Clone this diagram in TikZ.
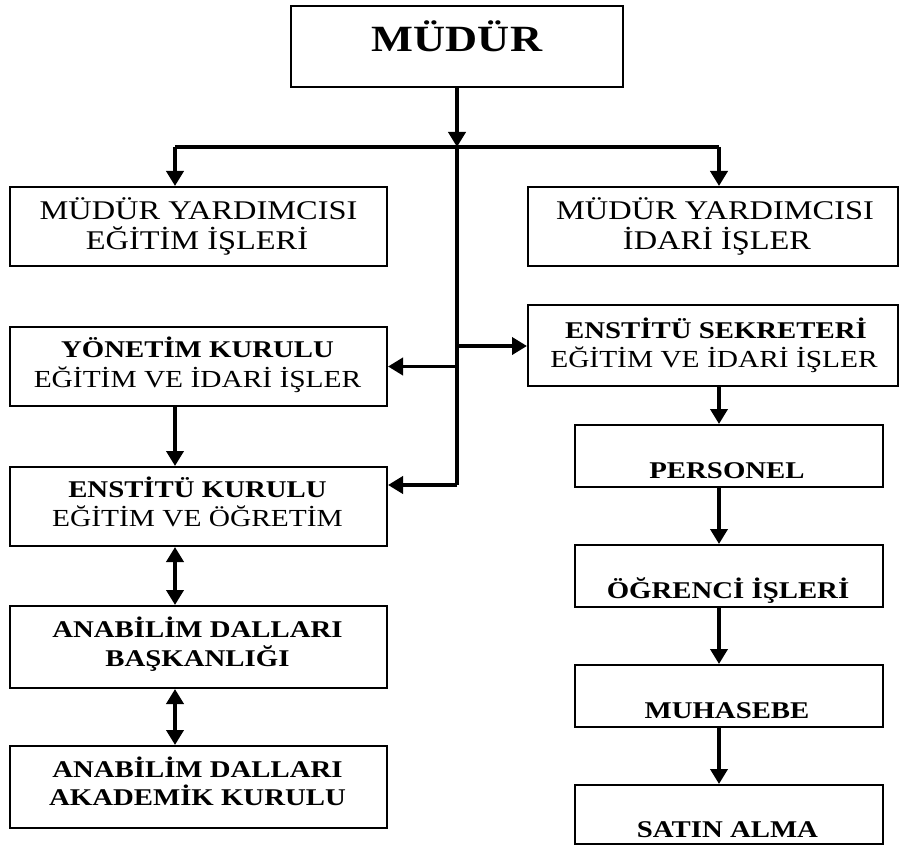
\documentclass[tikz,border=0pt]{standalone}
\usepackage{fontspec}
\setmainfont{Liberation Serif}[FakeStretch=1.2]
\usetikzlibrary{arrows.meta}
\begin{document}
\begin{tikzpicture}[x=1pt,y=-1pt,
  box/.style={draw=black, line width=2pt, inner sep=0pt},
  lw/.style={line width=3.8pt},
  conn/.style={line width=3.8pt, -{Triangle[width=17pt,length=15pt]}},
  dconn/.style={line width=3.8pt, {Triangle[width=17pt,length=15pt]}-{Triangle[width=17pt,length=15pt]}},
  tb/.style={anchor=base, inner sep=0pt, font=\fontsize{24}{28}\selectfont\bfseries},
  tr/.style={anchor=base, inner sep=0pt, font=\fontsize{24.5}{28}\selectfont},
  tmy/.style={anchor=base, inner sep=0pt, font=\fontsize{27}{30}\selectfont},
  tbig/.style={anchor=base, inner sep=0pt, font=\fontsize{37}{40}\selectfont\bfseries}]
\useasboundingbox[fill=white] (0,0) rectangle (899,845);

% boxes
\node[box, minimum width=332pt, minimum height=81pt] (mudur) at (457,46.5) {};
\node[box, minimum width=377pt, minimum height=79pt] (myl) at (198.5,226.5) {};
\node[box, minimum width=370pt, minimum height=79pt] (myr) at (713,226.5) {};
\node[box, minimum width=377pt, minimum height=79pt] (yon) at (198.5,366.5) {};
\node[box, minimum width=377pt, minimum height=79pt] (ens) at (198.5,506.5) {};
\node[box, minimum width=377pt, minimum height=82pt] (bas) at (198.5,647) {};
\node[box, minimum width=377pt, minimum height=82pt] (aka) at (198.5,787) {};
\node[box, minimum width=370pt, minimum height=81pt] (sek) at (713,345.5) {};
\node[box, minimum width=308pt, minimum height=62pt] (per) at (729,456) {};
\node[box, minimum width=308pt, minimum height=62pt] (ogr) at (729,576) {};
\node[box, minimum width=308pt, minimum height=62pt] (muh) at (729,696) {};
\node[box, minimum width=308pt, minimum height=58.5pt] (sat) at (729,814.25) {};

% texts
\node[tbig] (mudur-t) at (457,52) {MÜDÜR};
\node[tmy] (myl-1) at (198.5,219) {MÜDÜR YARDIMCISI};
\node[tmy] (myl-2) at (197,249) {EĞİTİM İŞLERİ};
\node[tmy] (myr-1) at (715,219) {MÜDÜR YARDIMCISI};
\node[tmy] (myr-2) at (717,249) {İDARİ İŞLER};
\node[tb] (yon-1) at (197.5,357) {YÖNETİM KURULU};
\node[tr] (yon-2) at (197.5,387) {EĞİTİM VE İDARİ İŞLER};
\node[tb] (ens-1) at (197.5,497) {ENSTİTÜ KURULU};
\node[tr] (ens-2) at (197.5,526) {EĞİTİM VE ÖĞRETİM};
\node[tb] (bas-1) at (197.5,637) {ANABİLİM DALLARI};
\node[tb] (bas-2) at (197.5,666) {BAŞKANLIĞI};
\node[tb] (aka-1) at (197.5,777) {ANABİLİM DALLARI};
\node[tb] (aka-2) at (197.5,805) {AKADEMİK KURULU};
\node[tb] (sek-1) at (716,338) {ENSTİTÜ SEKRETERİ};
\node[tr] (sek-2) at (714,367) {EĞİTİM VE İDARİ İŞLER};
\node[tb] (per-t) at (727,478) {PERSONEL};
\node[tb] (ogr-t) at (728,598) {ÖĞRENCİ İŞLERİ};
\node[tb] (muh-t) at (727,718) {MUHASEBE};
\node[tb] (sat-t) at (727.5,837) {SATIN ALMA};

% connectors
\coordinate (j) at (457,147);
\coordinate (jl) at (175,147);
\coordinate (jr) at (719,147);
\coordinate (mend) at (457,485);
\coordinate (b1) at (457,366.5);
\coordinate (b2) at (457,346);
\coordinate (cl) at (175,0);
\coordinate (cr) at (719,0);

\draw[lw] (jl) -- (jr);
\draw[lw] (j) -- (mend);
\draw[conn] (mudur.south) -- (j);
\draw[conn] (jl) -- (jl |- myl.north);
\draw[conn] (jr) -- (jr |- myr.north);
\draw[conn] (b1) -- (b1 -| yon.east);
\draw[conn] (b2) -- (b2 -| sek.west);
\draw[conn] (mend) -- (mend -| ens.east);

\draw[conn] (yon.south -| cl) -- (ens.north -| cl);
\draw[dconn] (ens.south -| cl) -- (bas.north -| cl);
\draw[dconn] (bas.south -| cl) -- (aka.north -| cl);

\draw[conn] (sek.south -| cr) -- (per.north -| cr);
\draw[conn] (per.south -| cr) -- (ogr.north -| cr);
\draw[conn] (ogr.south -| cr) -- (muh.north -| cr);
\draw[conn] (muh.south -| cr) -- (sat.north -| cr);
\end{tikzpicture}
\end{document}
